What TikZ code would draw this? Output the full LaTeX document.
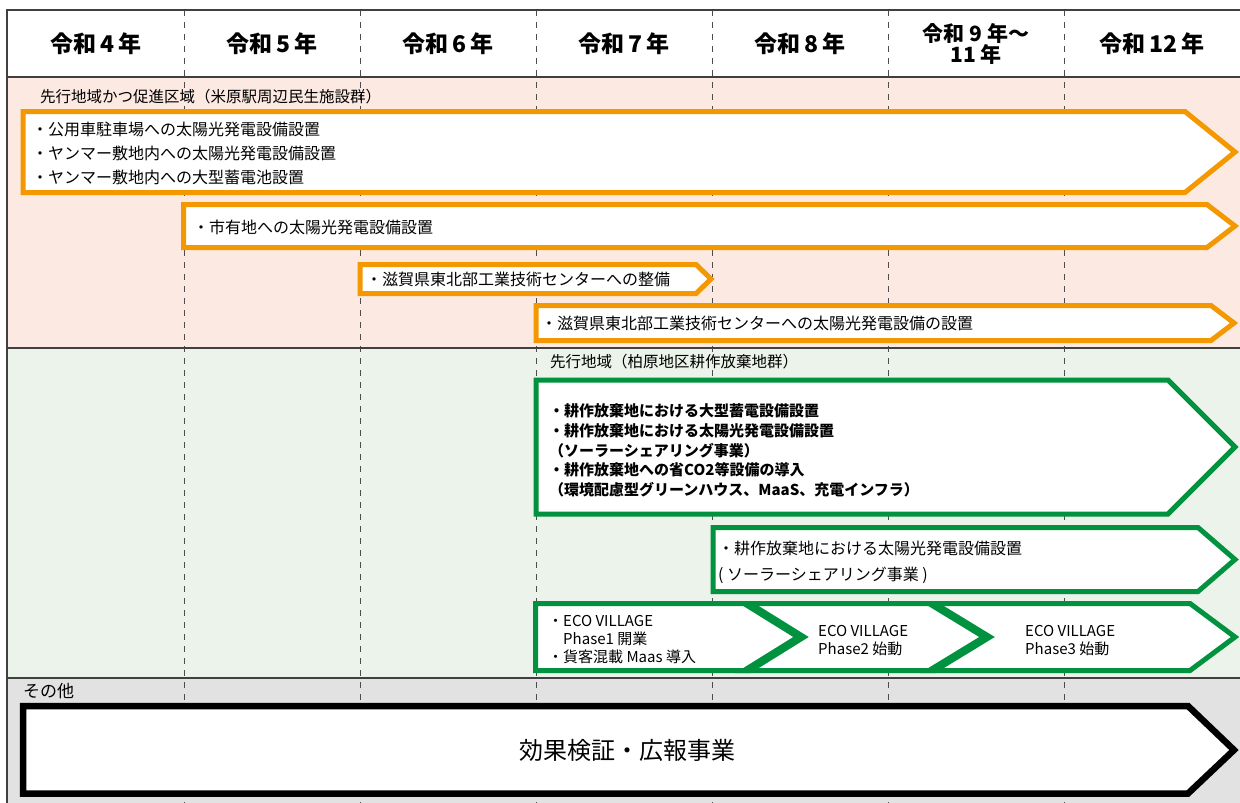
\documentclass[tikz,border=0pt]{standalone}
\usepackage{fontspec}
\setmainfont{Noto Sans CJK JP}
\usepackage{tikz}

\definecolor{barorange}{RGB}{243,152,0}
\definecolor{bargreen}{RGB}{0,146,63}
\definecolor{bgpink}{RGB}{252,234,226}
\definecolor{bggreen}{RGB}{235,243,234}
\definecolor{bggray}{RGB}{226,226,226}

\begin{document}
\begin{tikzpicture}[x=1pt,y=-1pt]
	\tikzset{orangebar/.style={draw=barorange,fill=white,line width=5pt},
		greenbar/.style={draw=bargreen,line width=5pt},
		blackbar/.style={draw=black,fill=white,line width=6.5pt},
		rule/.style={draw=black!75,line width=1.5pt},
		txt/.style={anchor=west,inner sep=0pt,align=left,font=\fontsize{16}{24}\selectfont},
		lbl/.style={anchor=west,inner sep=0pt,font=\fontsize{15.5}{15.5}\selectfont},
		year/.style={inner sep=0pt,align=center,font=\bfseries\fontsize{23}{23}\selectfont}}
	
	% Set the width of a year column
	\def\colwidth{176}
	\def\leftx{8}
	
	\useasboundingbox (0,0) rectangle (1240,803);
	
	% Row backgrounds
	\fill[white] (7,10) rectangle (1240,77);
	\fill[bgpink] (7,77) rectangle (1240,348);
	\fill[bggreen] (7,348) rectangle (1240,678);
	\fill[bggray] (7,678) rectangle (1240,803);
	
	% Vertical dashed lines between years
	\foreach \i in {1,...,6}
	{
		\draw [black!70, line width=1pt, dash pattern=on 6pt off 6pt] (\leftx+\i*\colwidth,10) -- (\leftx+\i*\colwidth,803); % year borders
	}
	
	% Frame and row borders
	\draw[rule] (1240,10) -- (7,10) -- (7,803);
	\draw[rule] (7,77) -- (1240,77);
	\draw[rule] (7,348) -- (1240,348);
	\draw[rule] (7,678) -- (1240,678);
	
	% Year headings
	\node[year] (year4) at (0.5*\colwidth+\leftx,43.5) {令和\,4\,年};
	\node[year] (year5) at (1.5*\colwidth+\leftx,43.5) {令和\,5\,年};
	\node[year] (year6) at (2.5*\colwidth+\leftx,43.5) {令和\,6\,年};
	\node[year] (year7) at (3.5*\colwidth+\leftx,43.5) {令和\,7\,年};
	\node[year] (year8) at (4.5*\colwidth+\leftx,43.5) {令和\,8\,年};
	\node[year, font=\bfseries\fontsize{21}{20}\selectfont] (year9) at (5.5*\colwidth+\leftx,43.5) {令和 9 年～\\11 年};
	\node[year] (year12) at (6.5*\colwidth+\leftx,43.5) {令和\,12\,年};
	
	% Section labels
	\node[lbl] (zoneStation) at (40,97) {先行地域かつ促進区域（米原駅周辺民生施設群）};
	\node[lbl] (zoneFarm) at (550,362) {先行地域（柏原地区耕作放棄地群）};
	\node[lbl, font=\fontsize{17}{17}\selectfont] (zoneOther) at (23,691) {その他};
	
	% Draw the orange arrows
	\draw[orangebar] (23,111.5) -- (1185,111.5) -- (1235,152) -- (1185,192.5) -- (23,192.5) -- cycle;
	\draw[orangebar] (183.5,204.5) -- (1207,204.5) -- (1235,226) -- (1207,247.5) -- (183.5,247.5) -- cycle;
	\draw[orangebar] (360,264.5) -- (696,264.5) -- (711,279) -- (696,293.5) -- (360,293.5) -- cycle;
	\draw[orangebar] (536,305.5) -- (1211,305.5) -- (1234,323) -- (1211,340.5) -- (536,340.5) -- cycle;
	
	% Orange arrow texts
	\node[txt] (parkText) at (32,153) {・公用車駐車場への太陽光発電設備設置\\・ヤンマー敷地内への太陽光発電設備設置\\・ヤンマー敷地内への大型蓄電池設置};
	\node[txt] (cityText) at (193,227) {・市有地への太陽光発電設備設置};
	\node[txt] (centerText) at (366,279) {・滋賀県東北部工業技術センターへの整備};
	\node[txt] (centerSolar) at (541,323) {・滋賀県東北部工業技術センターへの太陽光発電設備の設置};
	
	% Draw the green arrows
	\draw[greenbar, fill=white] (536,380) -- (1168,380) -- (1235,447) -- (1168,514) -- (536,514) -- cycle;
	\draw[greenbar, fill=white] (713,527.5) -- (1198,527.5) -- (1235,559.5) -- (1198,591.5) -- (713,591.5) -- cycle;
	
	% ECO VILLAGE phases (fill first, then outlines)
	\fill[white] (535.5,603.5) -- (750,603.5) -- (804,637) -- (750,670.5) -- (535.5,670.5) -- cycle;
	\fill[white] (744,603.5) -- (935,603.5) -- (990,637) -- (935,670.5) -- (744,670.5) -- (798,637) -- cycle;
	\fill[white] (929,603.5) -- (1190,603.5) -- (1235,637) -- (1190,670.5) -- (929,670.5) -- (984,637) -- cycle;
	\draw[greenbar] (535.5,603.5) -- (750,603.5) -- (804,637) -- (750,670.5) -- (535.5,670.5) -- cycle;
	\draw[greenbar] (744,603.5) -- (935,603.5) -- (990,637) -- (935,670.5) -- (744,670.5) -- (798,637) -- cycle;
	\draw[greenbar] (929,603.5) -- (1190,603.5) -- (1235,637) -- (1190,670.5) -- (929,670.5) -- (984,637) -- cycle;
	
	% Green arrow texts
	\node[txt, font=\bfseries\fontsize{15}{19.7}\selectfont] (farmText) at (549,450.5) {・耕作放棄地における大型蓄電設備設置\\・耕作放棄地における太陽光発電設備設置\\（ソーラーシェアリング事業）\\・耕作放棄地への省CO2等設備の導入\\（環境配慮型グリーンハウス、MaaS、充電インフラ）};
	\node[txt, font=\fontsize{16}{26}\selectfont] (shareText) at (718,562) {・耕作放棄地における太陽光発電設備設置\\( ソーラーシェアリング事業 )};
	\node[txt, font=\fontsize{15}{18}\selectfont] (ecoOne) at (548,640) {・ECO VILLAGE\\\phantom{・}Phase1 開業\\・貨客混載 Maas 導入};
	\node[txt, font=\fontsize{15}{18}\selectfont] (ecoTwo) at (818,641) {ECO VILLAGE\\Phase2 始動};
	\node[txt, font=\fontsize{15}{18}\selectfont] (ecoThree) at (1025,641) {ECO VILLAGE\\Phase3 始動};
	
	% Draw the black arrow
	\draw[blackbar] (23,706) -- (1188,706) -- (1234,750) -- (1188,793.5) -- (23,793.5) -- cycle;
	\node[inner sep=0pt, font=\fontsize{24}{24}\selectfont] (prText) at (627,750) {効果検証・広報事業};
	
\end{tikzpicture}
\end{document}
